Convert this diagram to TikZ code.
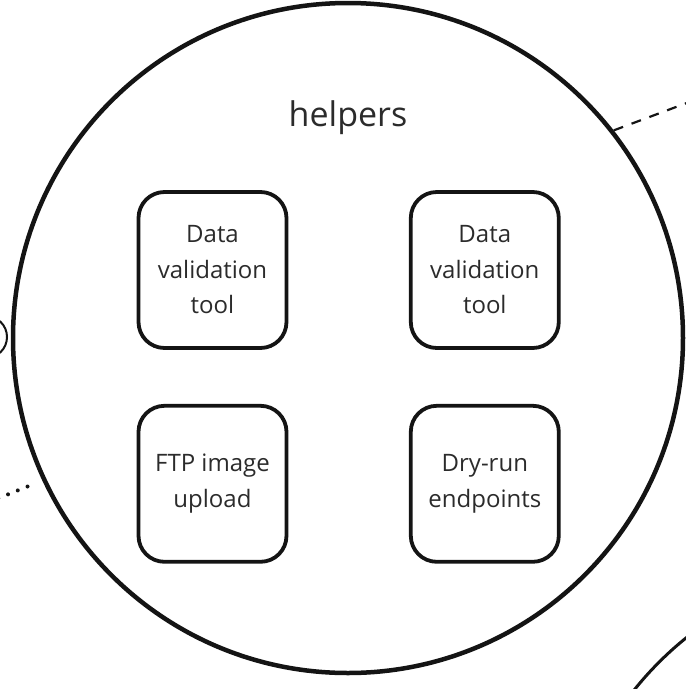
\documentclass[tikz,border=0pt]{standalone}
\usepackage{fontspec}
\setmainfont{Open Sans}
\usepackage{tikz}
\usetikzlibrary{calc}
\usetikzlibrary{positioning}

\definecolor{inkline}{HTML}{141414}
\definecolor{inktext}{HTML}{2B2B2B}

\tikzset{
  helperbox/.style={draw=inkline, line width=3.8pt, rounded corners=26pt,
    minimum width=148pt, minimum height=156pt, inner sep=0pt,
    align=center, text=inktext, font=\fontsize{24}{35.5}\selectfont},
  bigring/.style={circle, draw=inkline, minimum size=670pt, inner sep=0pt},
}

\begin{document}
\begin{tikzpicture}[x=1pt, y=-1pt]
            % Fix the page size
            \useasboundingbox (0,0) rectangle (686,689);
            \clip (0,0) rectangle (686,689);

            % Define the centre of the helpers ring
            \def\cx{348}  % centre x
            \def\cy{338}  % centre y

            % Draw the rings
            \node[bigring, line width=4.5pt] (helpers) at (\cx,\cy) {};
            \node[bigring, line width=3pt] (nextring) at (896,899) {};
            \node[circle, draw=inkline, line width=2pt, minimum size=42pt, inner sep=0pt] (port) at (-14,337) {};

            % Draw the title
            \node[text=inktext, font=\fontsize{34}{40}\selectfont] (title) at (\cx,118) {helpers};

            % Draw the helper boxes
            \node[helperbox] (validA) at (212.5,270) {Data\\validation\\tool};
            \node[helperbox, right=120.5pt of validA] (validB) {Data\\validation\\tool};
            \node[helperbox, below=54pt of validA] (ftp) {FTP image\\upload};
            \node[helperbox, below=54pt of validB] (dryrun) {Dry-run\\endpoints};

            % Draw the links leaving the ring
            \coordinate (dashend) at (692,101);
            \coordinate (dotend) at (-6,500);
            \draw[inkline, line width=2.2pt, dash pattern=on 10pt off 9pt] (helpers.38) -- (dashend);
            \draw[inkline, line width=4pt, line cap=round, dash pattern=on 0pt off 10.5pt, shorten <=16pt] (helpers.205) -- (dotend);
\end{tikzpicture}
\end{document}
